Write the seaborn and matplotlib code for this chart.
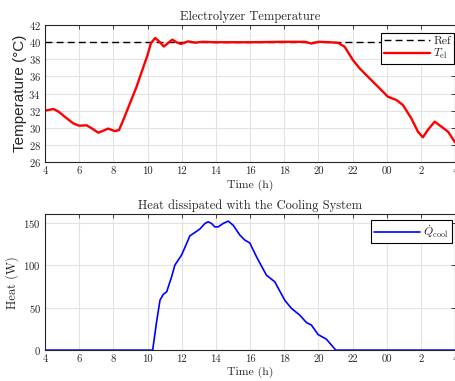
import numpy as np
import pandas as pd
import matplotlib
matplotlib.use("Agg")
import matplotlib.pyplot as plt
import seaborn as sns

# --- data ---
t_temp = [4.0, 4.49, 4.78, 5.27, 5.66, 5.99, 6.44, 6.73, 7.12, 7.41, 7.7, 8.09, 8.33,
          8.58, 8.97, 9.36, 9.6, 10.0, 10.2, 10.45, 10.7, 10.95, 11.2, 11.45, 11.7,
          11.95, 12.38, 12.8, 13.2, 14.0, 16.0, 18.0, 19.2, 19.6, 20.0, 20.67, 21.15,
          21.54, 22.03, 22.42, 23.0, 23.59, 24.07, 24.57, 24.95, 25.44, 25.83, 26.12,
          26.41, 26.81, 27.2, 27.59, 28.0]
T_el = [32.0, 32.19, 31.9, 31.1, 30.5, 30.24, 30.28, 29.93, 29.42, 29.66, 29.9, 29.6, 29.73,
        30.9, 32.85, 34.8, 36.2, 38.5, 39.9, 40.5, 40.05, 39.5, 39.9, 40.3, 40.0,
        39.8, 40.1, 39.95, 40.05, 40.0, 40.0, 40.05, 40.05, 39.85, 40.05, 40.0, 39.93,
        39.47, 37.9, 36.94, 35.77, 34.6, 33.63, 33.24, 32.66, 31.1, 29.54, 28.88,
        29.74, 30.71, 30.13, 29.54, 28.3]
T_ref = 40.0

t_heat = [4.0, 10.3, 10.53, 10.73, 10.92, 11.12, 11.41, 11.6, 11.99, 12.29, 12.48, 12.77,
          13.06, 13.36, 13.55, 13.75, 13.94, 14.13, 14.43, 14.72, 15.01, 15.4, 15.7,
          15.99, 16.38, 16.96, 17.45, 18.03, 18.43, 18.91, 19.3, 19.6, 19.98, 20.47,
          20.77, 21.02, 28.0]
Q_cool = [0.0, 0.0, 33.3, 58.8, 65.5, 68.6, 86.3, 100.0, 111.8, 125.5, 134.5, 138.4,
          142.4, 149.0, 151.0, 149.0, 145.0, 145.0, 149.0, 151.8, 147.0, 135.5, 129.4,
          126.0, 109.8, 88.2, 80.4, 58.8, 49.0, 41.2, 32.5, 29.4, 18.4, 12.9,
          5.9, 0.0, 0.0]

xticks = np.arange(4, 29, 2)
xlabels = ["4", "6", "8", "10", "12", "14", "16", "18", "20", "22", "00", "2", "4"]

sns.set_theme(style="whitegrid")
plt.rcParams.update({
    "font.family": ["cmr10", "DejaVu Serif"],
    "mathtext.fontset": "cm",
    "axes.formatter.use_mathtext": True,
    "axes.edgecolor": "#262626",
    "axes.linewidth": 0.8,
    "grid.color": "#e3e3e3",
    "grid.linewidth": 0.8,
    "xtick.direction": "in",
    "ytick.direction": "in",
    "xtick.top": True,
    "ytick.right": True,
    "xtick.color": "#262626",
    "ytick.color": "#262626",
})

df_t = pd.DataFrame({"t": t_temp, "T": T_el})
df_q = pd.DataFrame({"t": t_heat, "Q": Q_cool})

fig = plt.figure(figsize=(4.55, 3.81), dpi=100)
ax1 = fig.add_axes([0.099, 0.575, 0.901, 0.359])
ax2 = fig.add_axes([0.099, 0.081, 0.901, 0.357])

# top: temperature
ax1.axhline(T_ref, color="black", ls=(0, (5, 3)), lw=1.0, label="Ref")
sns.lineplot(data=df_t, x="t", y="T", ax=ax1, color="red", lw=1.7, label=r"$T_{\mathrm{el}}$")
ax1.set_xlim(4, 28)
ax1.set_ylim(26, 42)
ax1.set_yticks(np.arange(26, 43, 2))
ax1.set_xticks(xticks)
ax1.set_xticklabels(xlabels)
ax1.set_title("Electrolyzer Temperature", fontsize=9, pad=4)
ax1.set_xlabel("Time (h)", fontsize=8.5, labelpad=3)
ax1.set_ylabel("Temperature (°C)", fontsize=11, family="Liberation Sans", labelpad=1)
leg1 = ax1.legend(loc="upper right", bbox_to_anchor=(0.997, 0.942), fancybox=False,
                  edgecolor="black", framealpha=1, fontsize=8.5, borderpad=0.25,
                  labelspacing=0.1, handlelength=3.9, handletextpad=0.3, borderaxespad=0)
leg1.get_frame().set_linewidth(0.8)

# bottom: heat
sns.lineplot(data=df_q, x="t", y="Q", ax=ax2, color="blue", lw=1.2, label=r"$\dot{Q}_{\mathrm{cool}}$")
ax2.set_xlim(4, 28)
ax2.set_ylim(0, 160)
ax2.set_yticks([0, 50, 100, 150])
ax2.set_xticks(xticks)
ax2.set_xticklabels(xlabels)
ax2.set_title("Heat dissipated with the Cooling System", fontsize=9, pad=4)
ax2.set_xlabel("Time (h)", fontsize=8.5, labelpad=2)
ax2.set_ylabel("Heat (W)", fontsize=9, labelpad=3)
leg2 = ax2.legend(loc="upper right", bbox_to_anchor=(0.993, 0.956), fancybox=False,
                  edgecolor="black", framealpha=1, fontsize=8.5, borderpad=0.25,
                  handlelength=3.9, handletextpad=0.3, borderaxespad=0)
leg2.get_frame().set_linewidth(0.8)

for ax in (ax1, ax2):
    for s in ax.spines.values():
        s.set_visible(True)
    ax.tick_params(length=3.0, width=0.6, pad=3, labelsize=7.7)

fig.savefig("out.png", dpi=100)
